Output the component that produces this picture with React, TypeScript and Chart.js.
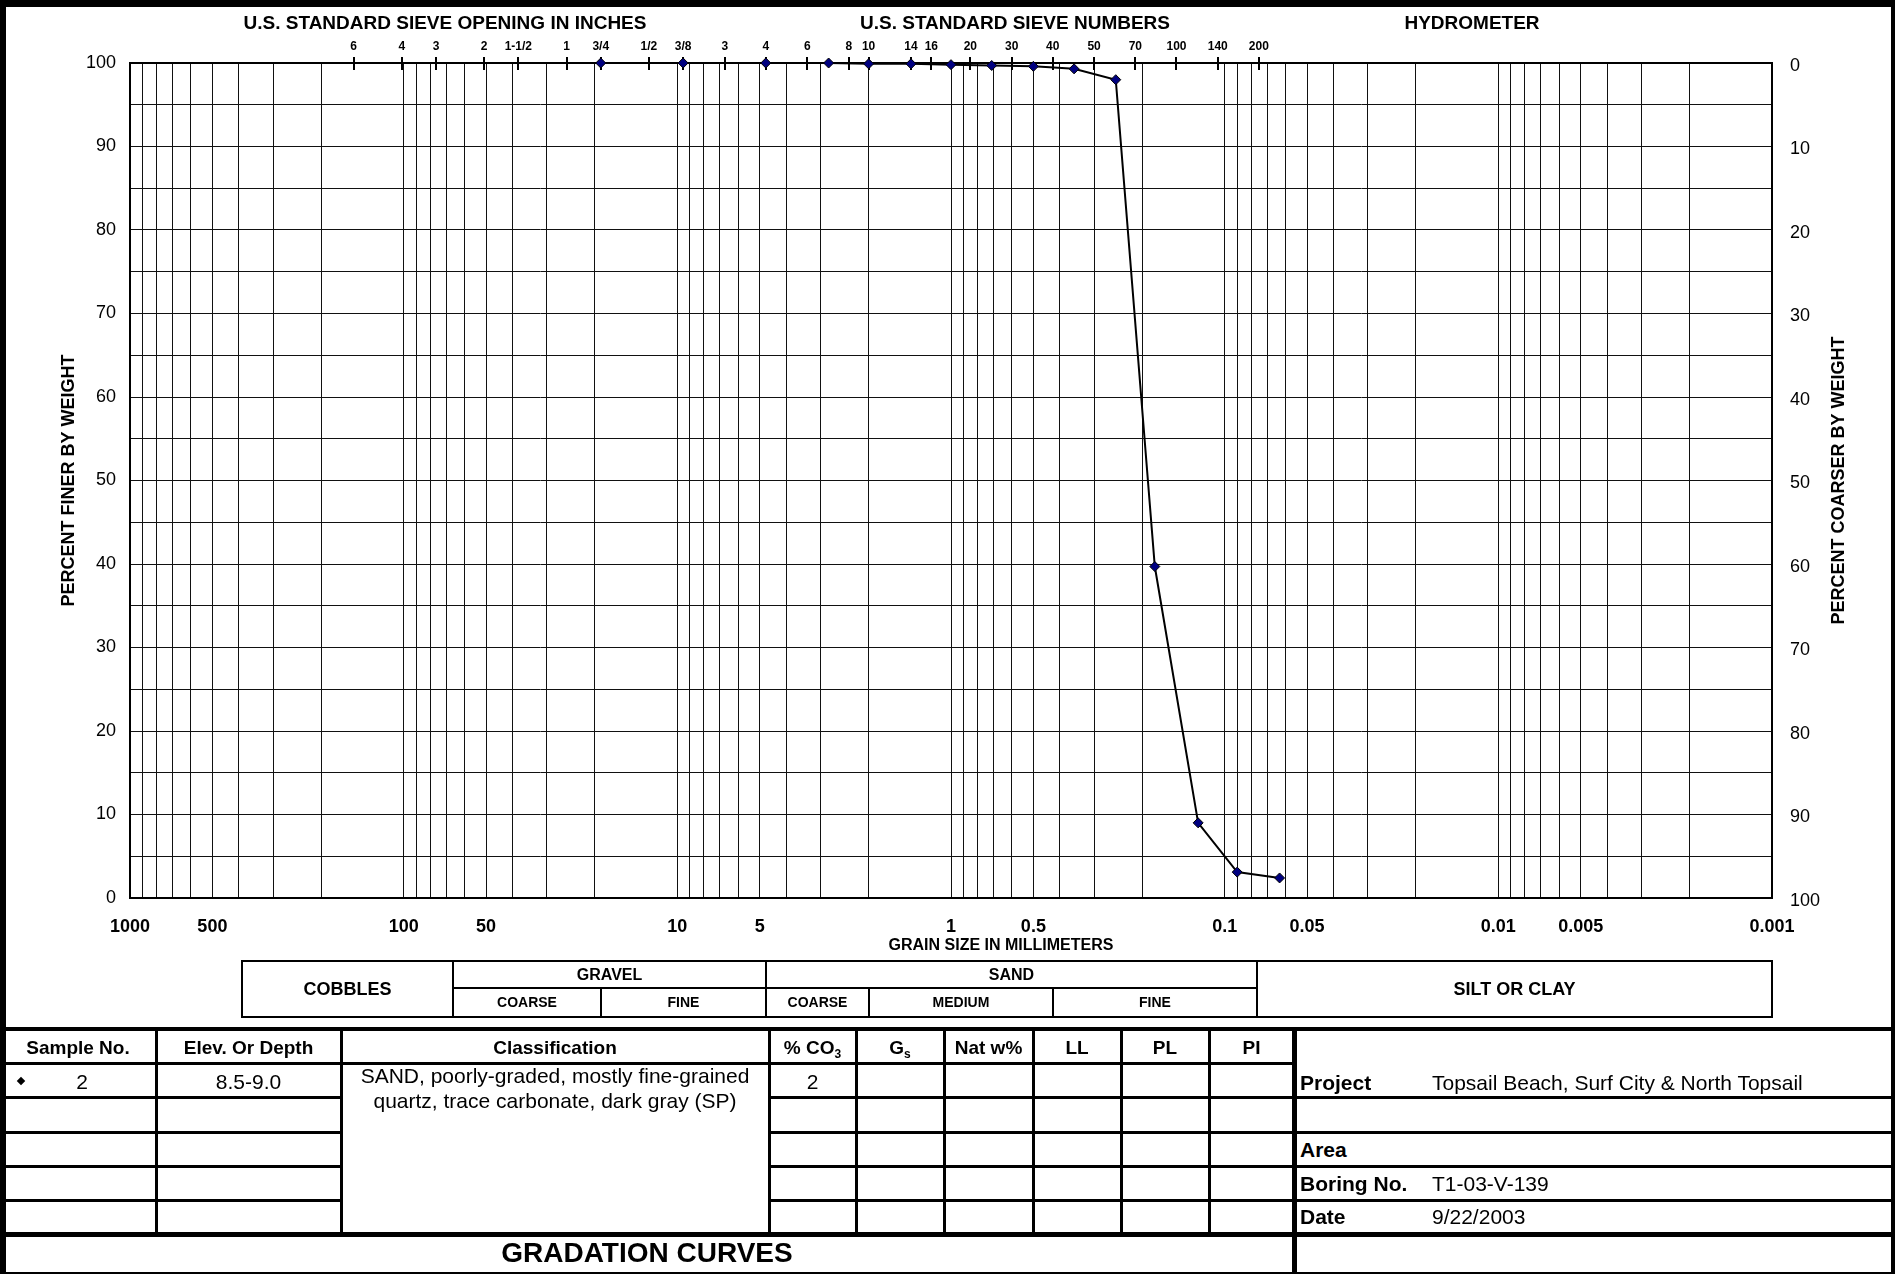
import React, { useEffect, useRef } from 'react';
import { Chart, registerables } from 'chart.js';

Chart.register(...registerables);

const FONT = "'Liberation Sans', Arial, Helvetica, sans-serif";

// ---- sample gradation data (grain size in mm, percent finer by weight) ----
const grainSizeMm = [19.05, 9.525, 4.75, 2.8, 2.0, 1.4, 1.0, 0.71, 0.5, 0.355, 0.25, 0.18, 0.125, 0.09, 0.063];
const percentFiner = [100, 100, 100, 100, 99.9, 99.9, 99.8, 99.7, 99.6, 99.3, 98.0, 39.7, 9.0, 3.1, 2.4];

// ---- bottom axis (grain size) labels ----
const bottomTickValues = [1000, 500, 100, 50, 10, 5, 1, 0.5, 0.1, 0.05, 0.01, 0.005, 0.001];
const bottomTickLabels = ['1000', '500', '100', '50', '10', '5', '1', '0.5', '0.1', '0.05', '0.01', '0.005', '0.001'];

// ---- top axis: US standard sieves ----
const sieveSizesMm = [152.4, 101.6, 76.2, 50.8, 38.1, 25.4, 19.05, 12.7, 9.525, 6.7, 4.75, 3.35, 2.36, 2.0, 1.4, 1.18, 0.85, 0.6, 0.425, 0.3, 0.212, 0.15, 0.106, 0.075];
const sieveLabels = ['6', '4', '3', '2', '1-1/2', '1', '3/4', '1/2', '3/8', '3', '4', '6', '8', '10', '14', '16', '20', '30', '40', '50', '70', '100', '140', '200'];

// ---- y axes ----
const yGridValues = [0, 5, 10, 15, 20, 25, 30, 35, 40, 45, 50, 55, 60, 65, 70, 75, 80, 85, 90, 95, 100];
const yLabelValues = [0, 10, 20, 30, 40, 50, 60, 70, 80, 90, 100];

// ---- log grid (1..9 per decade) ----
const gridMantissas = [1, 2, 3, 4, 5, 6, 7, 8, 9];
const gridDecades = [0.001, 0.01, 0.1, 1, 10, 100];

// ---- soil classification band (boundaries in mm) ----
const bandMain = [
  { label: 'COBBLES', from: 391, to: 66, sub: false },
  { label: 'GRAVEL', from: 66, to: 4.75, sub: true },
  { label: 'SAND', from: 4.75, to: 0.076, sub: true },
  { label: 'SILT OR CLAY', from: 0.076, to: 0.001, sub: false },
];
const bandSub = [
  { label: 'COARSE', from: 66, to: 19 },
  { label: 'FINE', from: 19, to: 4.75 },
  { label: 'COARSE', from: 4.75, to: 2.0 },
  { label: 'MEDIUM', from: 2.0, to: 0.425 },
  { label: 'FINE', from: 0.425, to: 0.076 },
];

// ---- table content ----
const headerCells = ['Sample No.', 'Elev. Or Depth', 'Classification', '% CO3', 'Gs', 'Nat w%', 'LL', 'PL', 'PI'];
const sampleNos = ['2'];
const sampleDepths = ['8.5-9.0'];
const classificationLines = ['SAND, poorly-graded, mostly fine-grained', 'quartz, trace carbonate, dark gray (SP)'];
const carbonatePct = ['2'];
const infoLabels = ['Project', 'Area', 'Boring No.', 'Date'];
const infoValues = ['Topsail Beach, Surf City & North Topsail', '', 'T1-03-V-139', '9/22/2003'];
const sheetTitle = 'GRADATION CURVES';

const gridXValues: number[] = [];
gridDecades.forEach((d) => gridMantissas.forEach((m) => gridXValues.push(parseFloat((m * d).toPrecision(6)))));
gridXValues.push(1000);

const sameLog = (a: number, b: number) => Math.abs(Math.log10(a) - Math.log10(b)) < 1e-6;

const decorPlugin = {
  id: 'gradationDecor',
  beforeDatasetsDraw(chart: any) {
    const { ctx, chartArea: a, scales } = chart;
    const x2 = scales.x2;
    ctx.save();
    ctx.strokeStyle = '#000';
    ctx.lineWidth = 2;
    ctx.strokeRect(a.left, a.top, a.right - a.left, a.bottom - a.top);
    ctx.lineWidth = 2;
    sieveSizesMm.forEach((v) => {
      const px = Math.round(x2.getPixelForValue(v));
      ctx.beginPath();
      ctx.moveTo(px, a.top - 6);
      ctx.lineTo(px, a.top + 7);
      ctx.stroke();
    });
    ctx.restore();
  },
  afterDraw(chart: any) {
    const { ctx, chartArea: a, scales } = chart;
    const x = scales.x;
    ctx.save();
    ctx.fillStyle = '#000';
    ctx.textAlign = 'center';
    ctx.textBaseline = 'middle';
    ctx.font = `bold 19px ${FONT}`;
    ctx.fillText('U.S. STANDARD SIEVE OPENING IN INCHES', 445, 24);
    ctx.fillText('U.S. STANDARD SIEVE NUMBERS', 1015, 24);
    ctx.fillText('HYDROMETER', 1472, 24);

    ctx.font = `bold 16px ${FONT}`;
    ctx.fillText('GRAIN SIZE IN MILLIMETERS', 1001, 946);

    // right axis title (reads bottom to top)
    ctx.save();
    ctx.translate(1839, (a.top + a.bottom) / 2);
    ctx.rotate(-Math.PI / 2);
    ctx.font = `bold 18px ${FONT}`;
    ctx.fillText('PERCENT COARSER BY WEIGHT', 0, 0);
    ctx.restore();

    // classification band
    const top = 961;
    const mid = 988;
    const bot = 1017;
    const px = (v: number) => Math.round(x.getPixelForValue(v));
    ctx.strokeStyle = '#000';
    ctx.lineWidth = 2;
    const left = px(bandMain[0].from);
    const right = px(bandMain[bandMain.length - 1].to);
    ctx.strokeRect(left, top, right - left, bot - top);
    bandMain.forEach((b, i) => {
      const l = px(b.from);
      const r = px(b.to);
      if (i > 0) {
        ctx.beginPath();
        ctx.moveTo(l, top);
        ctx.lineTo(l, bot);
        ctx.stroke();
      }
      ctx.font = b.sub ? `bold 16px ${FONT}` : `bold 18px ${FONT}`;
      ctx.fillText(b.label, (l + r) / 2, b.sub ? (top + mid) / 2 + 1 : (top + bot) / 2 + 1);
      if (b.sub) {
        ctx.beginPath();
        ctx.moveTo(l, mid);
        ctx.lineTo(r, mid);
        ctx.stroke();
      }
    });
    ctx.font = `bold 14px ${FONT}`;
    bandSub.forEach((s) => {
      const l = px(s.from);
      const r = px(s.to);
      if (!bandMain.some((b) => b.from === s.from)) {
        ctx.beginPath();
        ctx.moveTo(l, mid);
        ctx.lineTo(l, bot);
        ctx.stroke();
      }
      ctx.fillText(s.label, (l + r) / 2, (mid + bot) / 2 + 1);
    });
    ctx.restore();
  },
};

function GradationChart() {
  const ref = useRef<HTMLCanvasElement | null>(null);
  useEffect(() => {
    if (!ref.current) return;
    const chart = new Chart(ref.current, {
      type: 'line',
      data: {
        datasets: [
          {
            label: 'Sample 2',
            data: grainSizeMm.map((d, i) => ({ x: d, y: percentFiner[i] })),
            borderColor: '#000',
            borderWidth: 2,
            pointStyle: 'rectRot',
            pointRadius: 5,
            pointBackgroundColor: '#000080',
            pointBorderColor: '#000',
            pointBorderWidth: 1,
            tension: 0,
            clip: false as any,
            xAxisID: 'x',
            yAxisID: 'y',
          } as any,
        ],
      },
      options: {
        animation: false,
        responsive: false,
        devicePixelRatio: 1,
        layout: { padding: 0 },
        plugins: { legend: { display: false }, tooltip: { enabled: false } },
        events: [],
        scales: {
          x: {
            type: 'logarithmic',
            position: 'bottom',
            min: 0.001,
            max: 1000,
            reverse: true,
            afterBuildTicks: (s: any) => {
              s.ticks = gridXValues.map((v) => ({ value: v }));
            },
            afterFit: (s: any) => {
              s.height = 129;
            },
            ticks: {
              autoSkip: false,
              maxRotation: 0,
              minRotation: 0,
              padding: 18,
              color: '#000',
              font: { family: FONT, size: 18, weight: 'bold' },
              callback: (v: any) => {
                const i = bottomTickValues.findIndex((t) => sameLog(t, Number(v)));
                return i >= 0 ? bottomTickLabels[i] : '';
              },
            },
            grid: { color: '#111', lineWidth: 1, drawTicks: false },
            border: { display: false },
          },
          x2: {
            type: 'logarithmic',
            position: 'top',
            min: 0.001,
            max: 1000,
            reverse: true,
            afterBuildTicks: (s: any) => {
              s.ticks = sieveSizesMm.map((v) => ({ value: v }));
            },
            afterFit: (s: any) => {
              s.height = 63;
            },
            ticks: {
              autoSkip: false,
              maxRotation: 0,
              minRotation: 0,
              padding: 9,
              color: '#000',
              font: { family: FONT, size: 12, weight: 'bold' },
              callback: (_v: any, i: number) => sieveLabels[i],
            },
            grid: { drawOnChartArea: false, drawTicks: false },
            border: { display: false },
          },
          y: {
            type: 'linear',
            position: 'left',
            min: 0,
            max: 100,
            afterBuildTicks: (s: any) => {
              s.ticks = yGridValues.map((v) => ({ value: v }));
            },
            afterFit: (s: any) => {
              s.width = 130;
            },
            ticks: {
              padding: 14,
              color: '#000',
              font: { family: FONT, size: 18 },
              callback: (v: any) => (yLabelValues.includes(Number(v)) ? String(v) : ''),
            },
            grid: { color: '#111', lineWidth: 1, drawTicks: false },
            border: { display: false },
            title: {
              display: true,
              text: 'PERCENT FINER BY WEIGHT',
              color: '#000',
              font: { family: FONT, size: 18, weight: 'bold' },
              padding: { top: 58, bottom: 0 },
            },
          },
          y2: {
            type: 'linear',
            position: 'right',
            min: 0,
            max: 100,
            reverse: true,
            afterBuildTicks: (s: any) => {
              s.ticks = yLabelValues.map((v) => ({ value: v }));
            },
            afterFit: (s: any) => {
              s.width = 123;
            },
            ticks: {
              padding: 18,
              labelOffset: 3,
              color: '#000',
              font: { family: FONT, size: 18 },
              callback: (v: any) => String(v),
            },
            grid: { drawOnChartArea: false, drawTicks: false },
            border: { display: false },
          },
        },
      } as any,
      plugins: [decorPlugin],
    });
    return () => chart.destroy();
  }, []);
  return (
    <canvas
      ref={ref}
      width={1895}
      height={1027}
      style={{ position: 'absolute', left: 0, top: 0, width: 1895, height: 1027 }}
    />
  );
}

function Bar({ l, t, w, h }: { l: number; t: number; w: number; h: number }) {
  return <div style={{ position: 'absolute', left: l, top: t, width: w, height: h, background: '#000' }} />;
}

function Txt({
  x,
  y,
  w = 0,
  align = 'center',
  size,
  bold = false,
  children,
}: {
  x: number;
  y: number;
  w?: number;
  align?: 'center' | 'left';
  size: number;
  bold?: boolean;
  children: React.ReactNode;
}) {
  const style: React.CSSProperties = {
    position: 'absolute',
    top: y - 15,
    height: 30,
    lineHeight: '30px',
    fontSize: size,
    fontWeight: bold ? 700 : 400,
    whiteSpace: 'nowrap',
    fontFamily: FONT,
    color: '#000',
  };
  if (align === 'center') {
    style.left = x - w / 2;
    style.width = w;
    style.textAlign = 'center';
  } else {
    style.left = x;
  }
  return <div style={style}>{children}</div>;
}

function headerContent(h: string) {
  if (h === '% CO3')
    return (
      <span>
        % CO<span style={{ fontSize: 12, position: 'relative', top: 4 }}>3</span>
      </span>
    );
  if (h === 'Gs')
    return (
      <span>
        G<span style={{ fontSize: 12, position: 'relative', top: 4 }}>s</span>
      </span>
    );
  return h;
}

export default function App() {
  const cols = [0, 156, 341, 769, 856, 944, 1033, 1121, 1209, 1294];
  const rowLines = [1096, 1131, 1165, 1199];
  const infoY = [1083, 1150, 1184, 1217];
  return (
    <div
      style={{
        position: 'absolute',
        left: 0,
        top: 0,
        width: 1895,
        height: 1274,
        background: '#fff',
        overflow: 'hidden',
        fontFamily: FONT,
      }}
    >
      <GradationChart />

      {/* frame */}
      <Bar l={0} t={0} w={1895} h={7} />
      <Bar l={0} t={0} w={6} h={1274} />
      <Bar l={1891} t={0} w={4} h={1274} />
      <Bar l={0} t={1272} w={1895} h={2} />
      <Bar l={0} t={1027} w={1895} h={4} />

      {/* table grid */}
      <Bar l={0} t={1062} w={1294} h={3} />
      {rowLines.map((y) => (
        <React.Fragment key={y}>
          <Bar l={0} t={y} w={341} h={3} />
          <Bar l={769} t={y} w={1126} h={3} />
        </React.Fragment>
      ))}
      <Bar l={0} t={1232} w={1895} h={5} />
      {cols.slice(1, cols.length - 1).map((x) => (
        <Bar key={x} l={x - 1} t={1031} w={3} h={201} />
      ))}
      <Bar l={1292} t={1027} w={5} h={247} />

      {/* header */}
      {headerCells.map((h, i) => (
        <Txt key={h} x={(cols[i] + cols[i + 1]) / 2} w={cols[i + 1] - cols[i]} y={1048} size={19} bold>
          {headerContent(h)}
        </Txt>
      ))}

      {/* sample row */}
      <div
        style={{
          position: 'absolute',
          left: 18,
          top: 1078,
          width: 6,
          height: 6,
          background: '#000',
          transform: 'rotate(45deg)',
        }}
      />
      <Txt x={82} w={100} y={1082} size={21}>
        {sampleNos[0]}
      </Txt>
      <Txt x={(cols[1] + cols[2]) / 2} w={cols[2] - cols[1]} y={1082} size={21}>
        {sampleDepths[0]}
      </Txt>
      {classificationLines.map((line, i) => (
        <Txt key={line} x={(cols[2] + cols[3]) / 2} w={cols[3] - cols[2]} y={1076 + i * 25} size={21}>
          {line}
        </Txt>
      ))}
      <Txt x={(cols[3] + cols[4]) / 2} w={cols[4] - cols[3]} y={1082} size={21}>
        {carbonatePct[0]}
      </Txt>

      {/* project info */}
      {infoLabels.map((lab, i) => (
        <React.Fragment key={lab}>
          <Txt x={1300} y={infoY[i]} align="left" size={21} bold>
            {lab}
          </Txt>
          {infoValues[i] ? (
            <Txt x={1432} y={infoY[i]} align="left" size={21}>
              {infoValues[i]}
            </Txt>
          ) : null}
        </React.Fragment>
      ))}

      {/* title */}
      <Txt x={647} w={1294} y={1253} size={28} bold>
        {sheetTitle}
      </Txt>
    </div>
  );
}
